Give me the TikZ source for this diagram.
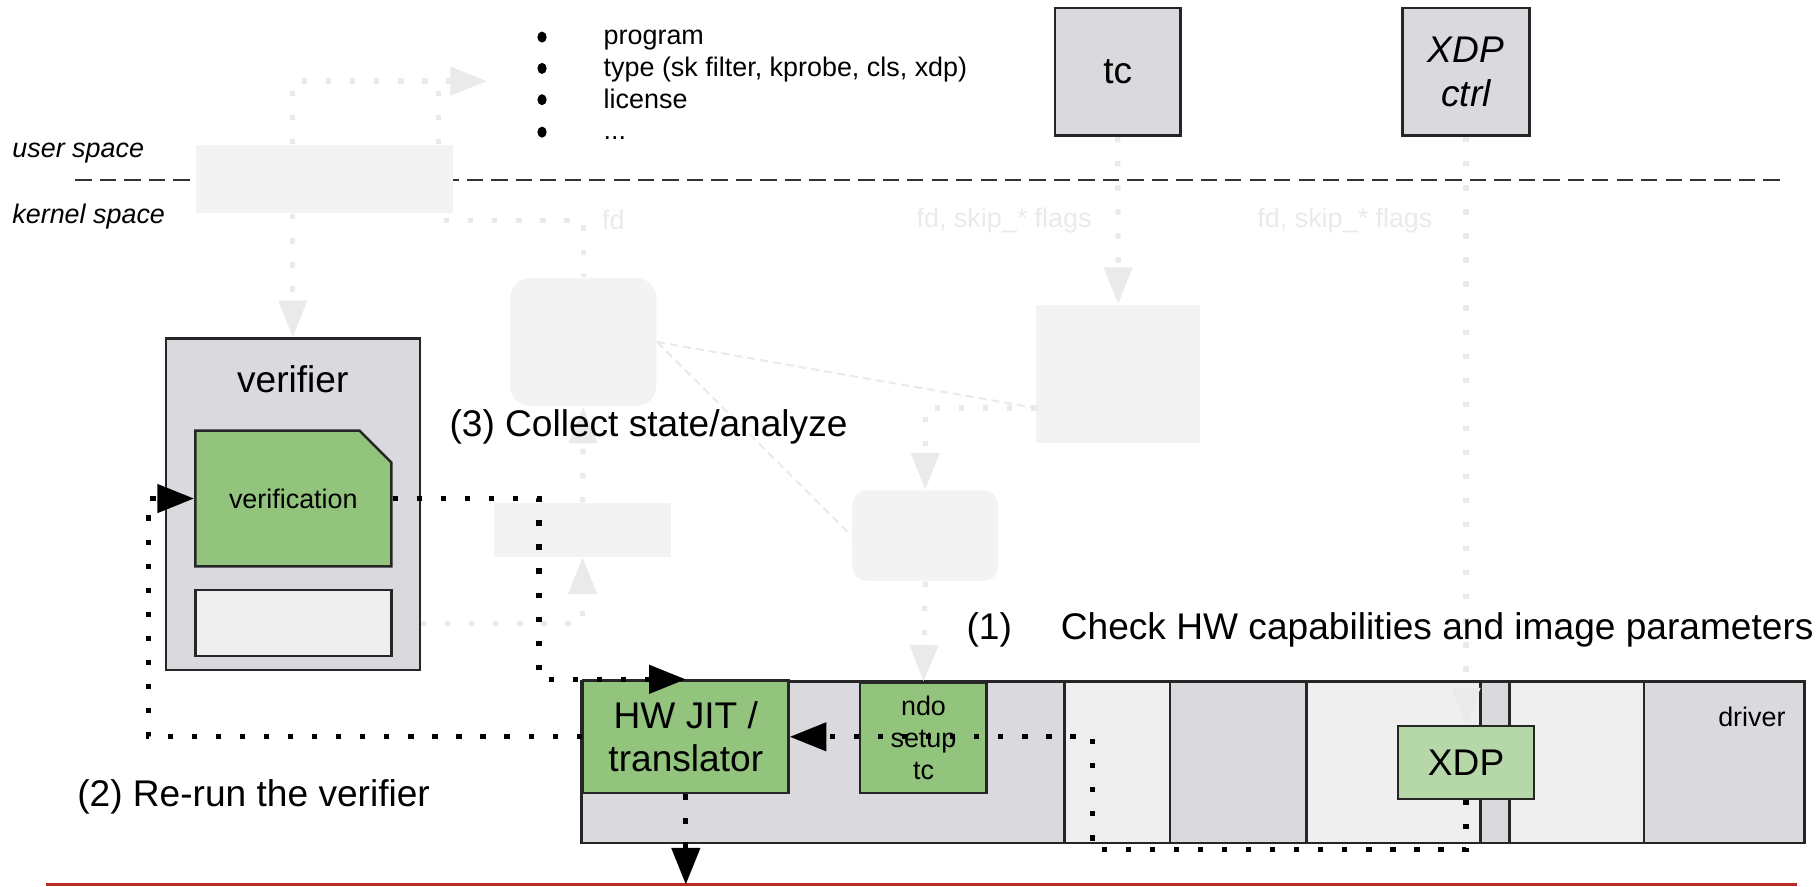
\documentclass[tikz,border=0pt]{standalone}
\usepackage{fontspec}
\setmainfont{Liberation Sans}
\usetikzlibrary{arrows.meta, shapes.misc, shapes.geometric, positioning}

\definecolor{boxgray}{RGB}{217,217,222}
\definecolor{palegray}{RGB}{239,239,239}
\definecolor{jitgreen}{RGB}{147,196,125}
\definecolor{xdpgreen}{RGB}{182,215,168}
\definecolor{ghostfill}{RGB}{243,243,243}
\definecolor{ghostline}{RGB}{234,234,234}
\definecolor{kernelred}{RGB}{183,45,38}

\newcommand{\bigfont}{\fontsize{9.1pt}{10.7pt}\selectfont}
\newcommand{\smallfont}{\fontsize{6.6pt}{7.8pt}\selectfont}

\begin{document}
\begin{tikzpicture}[x=0.01cm, y=-0.01cm]
\tikzstyle{box}=[rectangle, draw=black!85, line width=0.6pt, fill=boxgray, inner sep=0pt, align=center, font=\bigfont]
\tikzstyle{greenbox}=[box, fill=jitgreen]
\tikzstyle{section}=[box, fill=palegray, minimum height=1.39cm]
\tikzstyle{cutbox}=[box, chamfered rectangle, chamfered rectangle corners=north east]
\tikzstyle{ghost}=[rectangle, fill=ghostfill, inner sep=0pt]
\tikzstyle{ghostround}=[ghost, rounded corners=0.17cm]
\tikzstyle{dots}=[line width=1.3pt, dash pattern=on 1.3pt off 4.6pt]
\tikzstyle{connect}=[dots, -{Triangle[length=9pt, width=6.8pt]}]
\tikzstyle{ghostdots}=[dots, draw=ghostline]
\tikzstyle{ghostconnect}=[ghostdots, -{Triangle[length=9pt, width=6.8pt]}]
\tikzstyle{ghostdash}=[draw=ghostline, line width=0.5pt, dash pattern=on 2pt off 1.2pt]
\tikzstyle{bigtext}=[inner sep=0pt, font=\bigfont]
\tikzstyle{smalltext}=[inner sep=0pt, font=\smallfont]
\tikzstyle{ghosttext}=[smalltext, text=ghostline]
\tikzstyle{dotmark}=[ellipse, fill=black, inner sep=0pt, minimum width=0.08cm, minimum height=0.095cm]

\useasboundingbox (0,0) rectangle (1568,765);

% user / kernel boundary
\node[smalltext, anchor=west, font=\smallfont\itshape] (user) at (10,132) {user space};
\node[smalltext, anchor=west, font=\smallfont\itshape] (kernel) at (10,187) {kernel space};
\coordinate (splitl) at (65,155);
\coordinate (splitr) at (1540,155);
\draw[black!80, line width=0.5pt, dash pattern=on 4pt off 2pt] (splitl) -- (splitr);

\node[smalltext, anchor=west] (attrs) at (520,74) {\begin{tabular}{@{}l@{}}
program\\
type (sk filter, kprobe, cls, xdp)\\
license\\
...
\end{tabular}};
\foreach \y [count=\n] in {32,59,86,114}
  \node[dotmark] (item\n) at (467.5,\y) {};

% faded parts
\node[ghost, minimum width=2.21cm, minimum height=0.59cm] (loader) at (280,154.5) {};
\node[ghostround, minimum width=1.26cm, minimum height=1.1cm] (bpf) at (503,295) {};
\node[ghost, minimum width=1.41cm, minimum height=1.19cm] (tcfilter) at (964.5,322.5) {};
\node[ghostround, rounded corners=0.13cm, minimum width=1.26cm, minimum height=0.78cm] (offload) at (798,462) {};
\node[ghost, minimum width=1.53cm, minimum height=0.46cm] (maps) at (502.5,457) {};
\node[ghosttext] (fdlbl) at (529,190) {fd};
\node[ghosttext] (tcflags) at (866,190) {fd, skip\_* flags};
\node[ghosttext] (xdpflags) at (1160,190) {fd, skip\_* flags};

% user space tools
\node[box, line width=0.7pt, minimum width=1.08cm, minimum height=1.1cm] (tc) at (964,62) {tc};
\node[box, line width=0.7pt, minimum width=1.09cm, minimum height=1.1cm, font=\bigfont\itshape] (xdpctrl) at (1264.5,62) {XDP\\ctrl};

% verifier
\node[box, minimum width=2.19cm, minimum height=2.86cm] (verifier) at (252.5,435) {};
\node[bigtext] (verifierlbl) at (252.5,327) {verifier};
\node[cutbox, fill=jitgreen, font=\smallfont, chamfered rectangle xsep=0.2cm, chamfered rectangle ysep=0.19cm, minimum width=1.69cm, minimum height=1.17cm] (verif) at (253,430) {verification};
\node[cutbox, fill=palegray, chamfered rectangle xsep=0.12cm, chamfered rectangle ysep=0.12cm, minimum width=1.69cm, minimum height=0.57cm] (scratch) at (253,537.5) {};

% driver
\node[box, minimum width=10.54cm, minimum height=1.39cm] (driver) at (1029,657.5) {};
\node[section, minimum width=0.91cm] (secA) at (963.5,657.5) {};
\node[section, minimum width=1.50cm] (secB) at (1202,657.5) {};
\node[section, minimum width=1.16cm] (secC) at (1360,657.5) {};
\node[smalltext] (driverlbl) at (1511,618) {driver};
\node[greenbox, minimum width=1.77cm, minimum height=0.97cm] (jit) at (591.5,635.5) {HW JIT /\\translator};
\node[greenbox, font=\smallfont, minimum width=1.09cm, minimum height=0.95cm] (ndo) at (796.5,636.5) {ndo\\setup\\tc};
\node[greenbox, fill=xdpgreen, minimum width=1.17cm, minimum height=0.63cm] (xdp) at (1264.5,657.5) {XDP};

\coordinate (wirel) at (40,763);
\coordinate (wirer) at (1550,763);
\draw[kernelred, line width=0.7pt] (wirel) -- (wirer);

% faded connectors
\coordinate (listin) at (420,70);
\coordinate (bend) at (378,70);
\coordinate (fdout) at (383,190);
\coordinate (tcout) at (894,352);
\draw[ghostconnect] (verifier.north |- loader.north) |- (listin);
\draw[ghostdots] (bend |- loader.north) -- (bend);
\draw[ghostdots] (fdout) -| (bpf.north);
\draw[ghostconnect] (verifier.east |- scratch.east) -| (maps.south);
\draw[ghostconnect] (tcout) -| (offload.north);
\draw[ghostdash] (bpf.east) -- (tcout);
\draw[ghostdash] (bpf.east) -- (offload.west);
\path (verifier.north |- loader.south) edge[ghostconnect] (verifier.north)
      (maps.north) edge[ghostconnect] (bpf.south)
      (tc.south) edge[ghostconnect] (tcfilter.north)
      (offload.south) edge[ghostconnect] (ndo.north)
      (xdpctrl.south) edge[ghostconnect] (xdp.north);

% steps
\node[bigtext, anchor=west] (collect) at (387,368) {(3) Collect state/analyze};
\node[bigtext, anchor=west] (check) at (833,543) {(1)\hspace{12pt}Check HW capabilities and image parameters};
\node[bigtext, anchor=west] (rerun) at (66,687) {(2) Re-run the verifier};

% offload loop
\coordinate (jog) at (465,430);
\coordinate (loopx) at (942,733);
\coordinate (back) at (128,635.5);
\draw[connect] (verif.east) -- (jog) |- (jit.north);
\draw[connect] (xdp.south) |- (loopx) |- (jit.east);
\draw[connect] (jit.west) -- (back) |- (verif.west);
\draw[connect] (jit.south) -- (jit.south |- wirel);
\end{tikzpicture}
\end{document}
